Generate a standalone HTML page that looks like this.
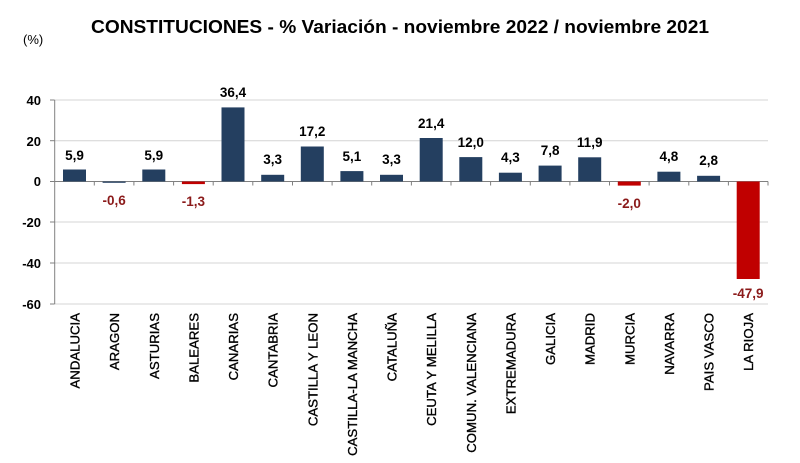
<!DOCTYPE html>
<html><head><meta charset="utf-8"><style>
html,body{margin:0;padding:0;background:#fff;}
svg{display:block;font-family:"Liberation Sans",sans-serif;}
.v{font-size:13.5px;font-weight:bold;text-anchor:middle;fill:#000}
.n{font-size:13.5px;font-weight:bold;text-anchor:middle;fill:#8b1a1a}
.y{font-size:13px;font-weight:bold;text-anchor:end;fill:#000}
.c{font-size:13.2px;text-anchor:end;fill:#000;stroke:#000;stroke-width:0.35}
</style></head><body>
<svg width="800" height="463" viewBox="0 0 800 463">
<text x="400" y="33" text-anchor="middle" font-size="18" font-weight="bold" textLength="618" lengthAdjust="spacingAndGlyphs">CONSTITUCIONES - % Variación - noviembre 2022 / noviembre 2021</text>
<text x="23" y="44" font-size="13">(%)</text>
<g stroke="#d4d4d4" stroke-width="1">
<line x1="55" x2="768" y1="100" y2="100"/>
<line x1="55" x2="768" y1="140.7" y2="140.7"/>
<line x1="55" x2="768" y1="222" y2="222"/>
<line x1="55" x2="768" y1="263" y2="263"/>
<line x1="55" x2="768" y1="304" y2="304"/>
</g>
<g stroke="#808080" stroke-width="1">
<line x1="54.7" x2="54.7" y1="100" y2="304"/>
<line x1="50" x2="54.7" y1="100" y2="100"/>
<line x1="50" x2="54.7" y1="140.7" y2="140.7"/>
<line x1="50" x2="54.7" y1="181.5" y2="181.5"/>
<line x1="50" x2="54.7" y1="222" y2="222"/>
<line x1="50" x2="54.7" y1="263" y2="263"/>
<line x1="50" x2="54.7" y1="304" y2="304"/>
<line x1="54.7" x2="768" y1="181.5" y2="181.5"/>
<path d="M94.3 181.5v4M133.9 181.5v4M173.6 181.5v4M213.2 181.5v4M252.8 181.5v4M292.5 181.5v4M332.1 181.5v4M371.7 181.5v4M411.4 181.5v4M451 181.5v4M490.6 181.5v4M530.3 181.5v4M569.9 181.5v4M609.5 181.5v4M649.1 181.5v4M688.8 181.5v4M728.4 181.5v4M768 181.5v4"/>
</g>
<text class="y" x="41" y="105">40</text>
<text class="y" x="41" y="146">20</text>
<text class="y" x="41" y="186">0</text>
<text class="y" x="41" y="227">-20</text>
<text class="y" x="41" y="268">-40</text>
<text class="y" x="41" y="309">-60</text>
<g fill="#243f60">
<rect x="63" y="169.5" width="23" height="12"/>
<rect x="142.3" y="169.5" width="23" height="12"/>
<rect x="221.5" y="107.4" width="23" height="74.1"/>
<rect x="261.2" y="174.8" width="23" height="6.7"/>
<rect x="300.8" y="146.5" width="23" height="35"/>
<rect x="340.4" y="171.1" width="23" height="10.4"/>
<rect x="380" y="174.8" width="23" height="6.7"/>
<rect x="419.7" y="138" width="23" height="43.5"/>
<rect x="459.3" y="157.1" width="23" height="24.4"/>
<rect x="498.9" y="172.7" width="23" height="8.8"/>
<rect x="538.6" y="165.6" width="23" height="15.9"/>
<rect x="578.2" y="157.3" width="23" height="24.2"/>
<rect x="657.4" y="171.7" width="23" height="9.8"/>
<rect x="697.1" y="175.8" width="23" height="5.7"/>
</g>
<rect x="102.6" y="181.5" width="23" height="1.3" fill="#243f60"/>
<g fill="#c00000">
<rect x="181.9" y="181.5" width="23" height="2.6"/>
<rect x="617.8" y="181.5" width="23" height="4.1"/>
<rect x="736.7" y="181.5" width="23" height="97.5"/>
</g>
<text class="v" x="74.5" y="160">5,9</text>
<text class="n" x="114.1" y="205">-0,6</text>
<text class="v" x="153.8" y="160">5,9</text>
<text class="n" x="193.4" y="206">-1,3</text>
<text class="v" x="233" y="97">36,4</text>
<text class="v" x="272.7" y="164">3,3</text>
<text class="v" x="312.3" y="136">17,2</text>
<text class="v" x="351.9" y="161">5,1</text>
<text class="v" x="391.5" y="164">3,3</text>
<text class="v" x="431.2" y="128">21,4</text>
<text class="v" x="470.8" y="147">12,0</text>
<text class="v" x="510.4" y="162">4,3</text>
<text class="v" x="550.1" y="155">7,8</text>
<text class="v" x="589.7" y="147">11,9</text>
<text class="n" x="629.3" y="208">-2,0</text>
<text class="v" x="668.9" y="161">4,8</text>
<text class="v" x="708.6" y="165">2,8</text>
<text class="n" x="748.2" y="298">-47,9</text>
<g>
<text class="c" transform="translate(79.5,313) rotate(-90)">ANDALUCIA</text>
<text class="c" transform="translate(119.1,313) rotate(-90)">ARAGON</text>
<text class="c" transform="translate(158.8,313) rotate(-90)">ASTURIAS</text>
<text class="c" transform="translate(198.4,313) rotate(-90)">BALEARES</text>
<text class="c" transform="translate(238,313) rotate(-90)">CANARIAS</text>
<text class="c" transform="translate(277.7,313) rotate(-90)">CANTABRIA</text>
<text class="c" transform="translate(317.3,313) rotate(-90)">CASTILLA Y LEON</text>
<text class="c" transform="translate(356.9,313) rotate(-90)">CASTILLA-LA MANCHA</text>
<text class="c" transform="translate(396.5,313) rotate(-90)">CATALUÑA</text>
<text class="c" transform="translate(436.2,313) rotate(-90)">CEUTA Y MELILLA</text>
<text class="c" transform="translate(475.8,313) rotate(-90)">COMUN. VALENCIANA</text>
<text class="c" transform="translate(515.4,313) rotate(-90)">EXTREMADURA</text>
<text class="c" transform="translate(555.1,313) rotate(-90)">GALICIA</text>
<text class="c" transform="translate(594.7,313) rotate(-90)">MADRID</text>
<text class="c" transform="translate(634.3,313) rotate(-90)">MURCIA</text>
<text class="c" transform="translate(673.9,313) rotate(-90)">NAVARRA</text>
<text class="c" transform="translate(713.6,313) rotate(-90)">PAIS VASCO</text>
<text class="c" transform="translate(753.2,313) rotate(-90)">LA RIOJA</text>
</g>
</svg>
</body></html>
